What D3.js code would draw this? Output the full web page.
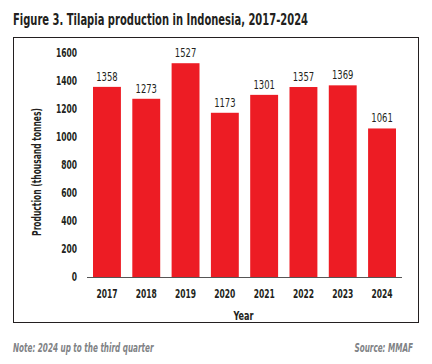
<!DOCTYPE html>
<html><head><meta charset="utf-8">
<script src="https://cdn.jsdelivr.net/npm/d3@7"></script>
<style>
body{margin:0;background:#fff;}
text{font-family:"DejaVu Sans Condensed","Roboto",sans-serif;}
</style></head>
<body><svg id="c" width="432" height="364"></svg>
<script>
const years = ["2017","2018","2019","2020","2021","2022","2023","2024"];
const production = [1358,1273,1527,1173,1301,1357,1369,1061];
const yTicks = [0,200,400,600,800,1000,1200,1400,1600];
const titleText = "Figure 3. Tilapia production in Indonesia, 2017-2024";
const yTitle = "Production (thousand tonnes)";
const xTitle = "Year";
const noteText = "Note: 2024 up to the third quarter";
const sourceText = "Source: MMAF";

const svg = d3.select("#c");
const red = "#ED1C24", ink = "#231F20", gray = "#808285";

function condense(sel, f){
  sel.each(function(){
    const w = this.getComputedTextLength();
    d3.select(this).attr("textLength", w*f).attr("lengthAdjust","spacingAndGlyphs");
  });
  return sel;
}

condense(svg.append("text").attr("x",13).attr("y",25).attr("font-size",16.5).attr("font-weight","bold")
  .attr("fill",ink).text(titleText), 1).each(function(){
    d3.select(this).attr("textLength",295);
  });

svg.append("rect").attr("x",13.5).attr("y",37.5).attr("width",405).attr("height",285)
  .attr("fill","none").attr("stroke",ink).attr("stroke-width",1);

const x = d3.scaleBand().domain(years).range([87,402]).paddingInner(0.29).paddingOuter(0.153);
const y = d3.scaleLinear().domain([0,1600]).range([277,53]);

svg.selectAll("rect.bar").data(production).join("rect").attr("class","bar")
  .attr("x",(d,i)=>x(years[i])).attr("width",x.bandwidth())
  .attr("y",d=>y(d)).attr("height",d=>y(0)-y(d)).attr("fill",red);

condense(svg.selectAll("text.val").data(production).join("text").attr("class","val")
  .attr("x",(d,i)=>x(years[i])+x.bandwidth()/2).attr("y",d=>y(d)-6)
  .attr("text-anchor","middle").attr("font-size",12).attr("fill",ink).text(d=>d), 0.78);

svg.append("line").attr("x1",87).attr("x2",402).attr("y1",y(0)+0.5).attr("y2",y(0)+0.5)
  .attr("stroke","#555").attr("stroke-width",1);

condense(svg.selectAll("text.yt").data(yTicks).join("text").attr("class","yt")
  .attr("x",77).attr("y",d=>y(d)).attr("dy","0.36em").attr("text-anchor","end")
  .attr("font-size",12).attr("font-weight","bold").attr("fill",ink).text(d=>d), 0.7);

condense(svg.selectAll("text.xt").data(years).join("text").attr("class","xt")
  .attr("x",d=>x(d)+x.bandwidth()/2).attr("y",298).attr("text-anchor","middle")
  .attr("font-size",12).attr("font-weight","bold").attr("fill",ink).text(d=>d), 0.7);

condense(svg.append("text").attr("x",243.5).attr("y",320).attr("text-anchor","middle")
  .attr("font-size",12).attr("font-weight","bold").attr("fill",ink).text(xTitle), 0.75);

condense(svg.append("text").attr("transform","translate(41,172) rotate(-90)").attr("text-anchor","middle")
  .attr("font-size",12).attr("font-weight","bold").attr("fill",ink).text(yTitle), 0.7);

condense(svg.append("text").attr("x",13).attr("y",352).attr("font-size",11.5).attr("font-style","italic")
  .attr("font-weight","bold").attr("fill",gray).text(noteText), 0.7);
condense(svg.append("text").attr("x",413).attr("y",352).attr("text-anchor","end").attr("font-size",11.5)
  .attr("font-style","italic").attr("font-weight","bold").attr("fill",gray).text(sourceText), 0.7);
</script></body></html>
